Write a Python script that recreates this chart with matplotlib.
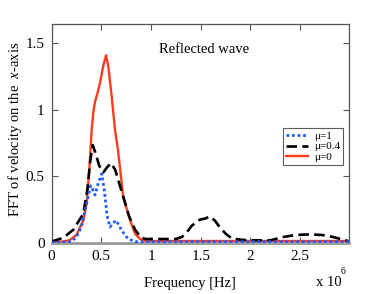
import matplotlib
matplotlib.use("Agg")
import matplotlib.pyplot as plt

plt.rcParams['font.family'] = ['Liberation Serif', 'DejaVu Serif']
plt.rcParams['mathtext.fontset'] = 'custom'
plt.rcParams['mathtext.it'] = 'Liberation Serif:italic'
plt.rcParams['mathtext.rm'] = 'Liberation Serif'

# Frequency in units of 1e6 Hz
red_f = [0, 0.1, 0.18, 0.25, 0.32, 0.354, 0.38, 0.404, 0.42, 0.437, 0.46, 0.487, 0.52, 0.548,
         0.57, 0.605, 0.638, 0.668, 0.72, 0.79, 0.84, 0.89, 0.95, 1.2, 3.0]
red_v = [0.01, 0.01, 0.02, 0.06, 0.17, 0.30, 0.55, 0.85, 0.98, 1.06, 1.12, 1.20, 1.33, 1.41,
         1.33, 1.10, 0.85, 0.70, 0.35, 0.17, 0.07, 0.03, 0.015, 0.015, 0.015]

black_f = [0, 0.12, 0.22, 0.32, 0.36, 0.39, 0.414, 0.44, 0.48, 0.52, 0.56, 0.598, 0.64, 0.68,
           0.72, 0.78, 0.84, 0.9, 0.95, 1.1, 1.25, 1.31, 1.36, 1.41, 1.49, 1.55, 1.59, 1.64,
           1.69, 1.75, 1.81, 1.9, 2.0, 2.2, 2.33, 2.45, 2.6, 2.72, 2.83, 2.98]
black_v = [0.01, 0.04, 0.10, 0.22, 0.40, 0.62, 0.735, 0.68, 0.58, 0.53, 0.57, 0.60, 0.55, 0.45,
           0.35, 0.20, 0.10, 0.04, 0.03, 0.03, 0.03, 0.045, 0.08, 0.13, 0.175, 0.185, 0.20, 0.17,
           0.12, 0.07, 0.035, 0.025, 0.02, 0.02, 0.045, 0.06, 0.065, 0.06, 0.045, 0.015]

blue_f = [0, 0.2, 0.25, 0.30, 0.354, 0.394, 0.415, 0.437, 0.47, 0.505, 0.53, 0.56, 0.588, 0.62,
          0.648, 0.68, 0.705, 0.77, 0.85, 3.0]
blue_v = [0.005, 0.01, 0.045, 0.12, 0.30, 0.43, 0.40, 0.36, 0.45, 0.52, 0.40, 0.20, 0.12, 0.15,
          0.17, 0.13, 0.095, 0.03, 0.01, 0.01]

labels = ['μ=1', 'μ=0.4', 'μ=0']
xticks = [0, 0.5, 1, 1.5, 2, 2.5]
yticks = [0, 0.5, 1, 1.5]

W, H = 388, 294
fig = plt.figure(figsize=(W / 100, H / 100), dpi=100)
ax = fig.add_axes([51.5 / W, 1 - 243 / H, (349 - 51.5) / W, (243 - 24) / H])

l_blue, = ax.plot(blue_f, blue_v, color='#1f5cff', lw=2.0, ls=(0, (1, 1)), zorder=4)
l_black, = ax.plot(black_f, black_v, color='black', lw=1.9, ls=(0, (4, 2)), zorder=3)
l_red, = ax.plot(red_f, red_v, color='#ff3b1f', lw=1.7, zorder=2)

ax.set_xlim(0, 2.99)
ax.set_ylim(0, 1.645)
ax.set_xticks(xticks)
ax.set_xticklabels(['0', '0.5', '1', '1.5', '2', '2.5'])
ax.set_yticks(yticks)
ax.set_yticklabels(['0', '0.5', '1', '1.5'])
ax.tick_params(direction='in', top=True, right=True, length=4, width=0.8,
               color='#555555', labelsize=11, pad=5)
for s in ax.spines.values():
    s.set_color('#555555')
    s.set_linewidth(0.9)
ax.spines['bottom'].set_color('#999999')
ax.spines['bottom'].set_linewidth(2)

ax.text(1.53, 1.45, 'Reflected wave', fontsize=10.5, ha='center', va='center')

leg = ax.legend([l_blue, l_black, l_red], labels, loc='upper left',
                bbox_to_anchor=((282.7 - 51.5) / (349 - 51.5), 1 - (128 - 24) / (243 - 24)),
                fontsize=8, frameon=True, fancybox=False, edgecolor='#333333',
                handlelength=2.0, handletextpad=0.5, borderpad=0.3, labelspacing=0.05,
                borderaxespad=0)
leg.get_frame().set_linewidth(0.8)

fig.text(15 / W, 1 - 129 / H, 'FFT of velocity on the  $x$-axis', rotation=90,
         ha='center', va='center', fontsize=10.5)
fig.text(190 / W, 1 - 283 / H, 'Frequency [Hz]', ha='center', va='center', fontsize=10.5)
fig.text(316 / W, 1 - 282 / H, 'x 10', ha='left', va='center', fontsize=10.5)
fig.text(341 / W, 1 - 271 / H, '6', ha='left', va='center', fontsize=7)

fig.savefig('out.png', dpi=100)
